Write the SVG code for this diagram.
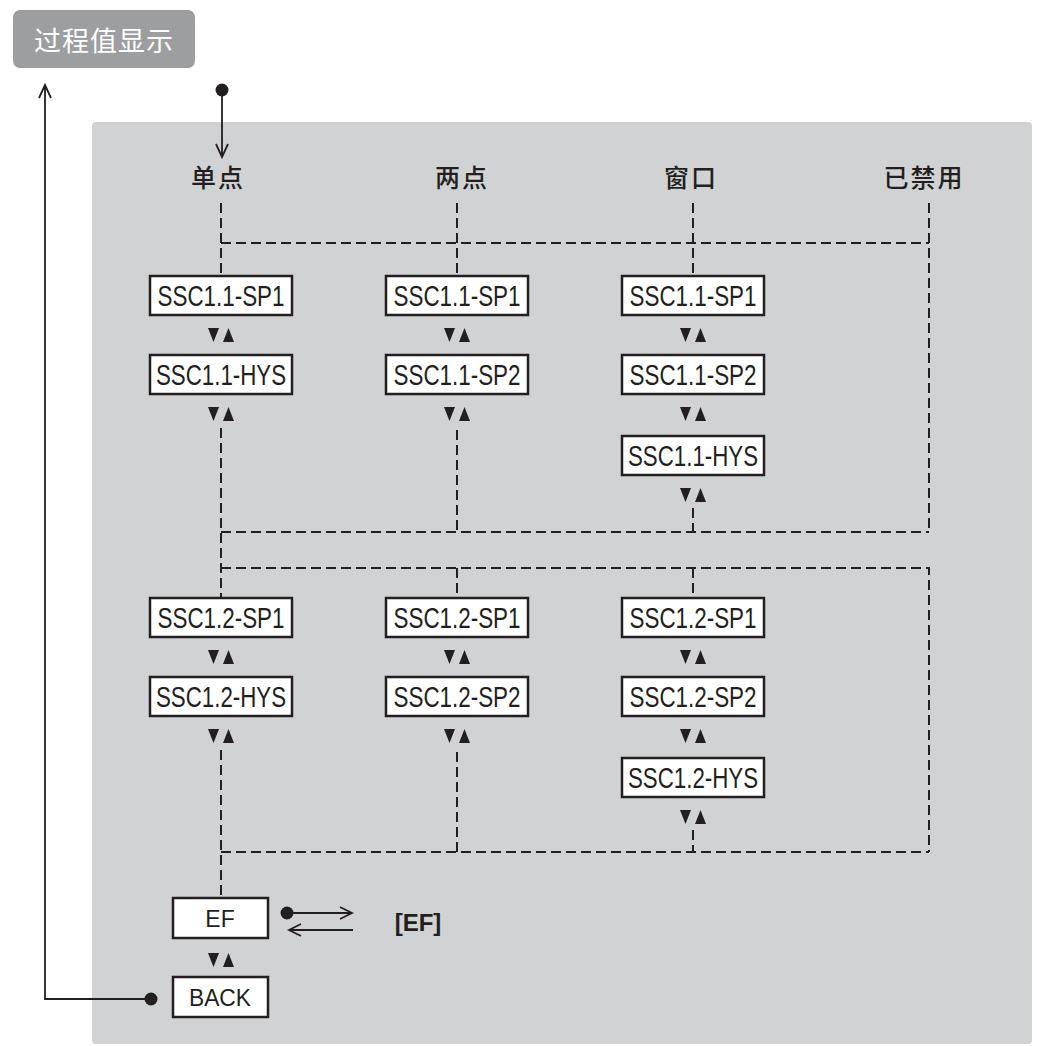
<svg xmlns="http://www.w3.org/2000/svg" width="1037" height="1046" viewBox="0 0 1037 1046">
<defs>
<style>
.panel{fill:#d1d2d4}
.box{fill:#fff;stroke:#231f20;stroke-width:2.5}
.bt{font-family:"Liberation Sans",Arial,sans-serif;font-size:29px;fill:#231f20;text-anchor:middle}
.bt2{font-family:"Liberation Sans",Arial,sans-serif;font-size:23px;fill:#231f20;text-anchor:middle}
.lab{font-family:"Noto Sans CJK SC","Noto Sans",sans-serif;font-size:25px;font-weight:500;fill:#231f20;text-anchor:middle;letter-spacing:2px}
.dash{fill:none;stroke:#231f20;stroke-width:2;stroke-dasharray:10 5}
.solid{fill:none;stroke:#231f20;stroke-width:1.8}
.tri{fill:#231f20}
</style>
<g id="updown">
<polygon class="tri" points="-13,-7 -2,-7 -7.5,7"/>
<polygon class="tri" points="2,7 13,7 7.5,-7"/>
</g>
</defs>

<rect class="panel" x="92" y="122" width="940" height="922" rx="4"/>

<g id="title">
<rect x="13" y="10" width="182" height="58" rx="7" fill="#9d9ea0"/>
<text x="104" y="51" font-family="'Noto Sans CJK SC','Noto Sans',sans-serif" font-size="27px" fill="#fff" text-anchor="middle" letter-spacing="1">过程值显示</text>
</g>

<g id="connectors">
<path class="dash" d="M221 203V276M457 203V276M693 203V276M929 203V532M221 243H929"/>
<path class="dash" d="M221 428V598M457 430V532M693 508V532M221 532H929"/>
<path class="dash" d="M221 568H929V852M457 568V598M693 568V598"/>
<path class="dash" d="M221 750V898M457 752V852M693 830V852M221 852H929"/>
<circle cx="222" cy="90" r="6.5" fill="#231f20"/>
<path class="solid" d="M222 90V156M216 144L222 157L228 144"/>
<circle cx="151" cy="999" r="6.5" fill="#231f20"/>
<path class="solid" d="M151 999H45V85M39 98L45 85L51 98"/>
<circle cx="287" cy="913" r="6.5" fill="#231f20"/>
<path class="solid" d="M292 913H352M340 907L352 913L340 919"/>
<path class="solid" d="M353 930H289M301 924L289 930L301 936"/>
<use href="#updown" x="221" y="335"/>
<use href="#updown" x="221" y="414"/>
<use href="#updown" x="457" y="335"/>
<use href="#updown" x="457" y="414"/>
<use href="#updown" x="693" y="335"/>
<use href="#updown" x="693" y="414"/>
<use href="#updown" x="693" y="495"/>
<use href="#updown" x="221" y="657"/>
<use href="#updown" x="221" y="736"/>
<use href="#updown" x="457" y="657"/>
<use href="#updown" x="457" y="736"/>
<use href="#updown" x="693" y="657"/>
<use href="#updown" x="693" y="736"/>
<use href="#updown" x="693" y="817"/>
<use href="#updown" x="221" y="960"/>
</g>

<g id="labels">
<text class="lab" x="218" y="187">单点</text>
<text class="lab" x="462" y="187">两点</text>
<text class="lab" x="691" y="187">窗口</text>
<text class="lab" x="924" y="187">已禁用</text>
</g>

<g id="n-s11-sp1"><rect class="box" x="150" y="276" width="142" height="39"/><text class="bt" x="221" y="306" textLength="127" lengthAdjust="spacingAndGlyphs">SSC1.1-SP1</text></g>
<g id="n-s11-hys"><rect class="box" x="150" y="355" width="142" height="39"/><text class="bt" x="221" y="385" textLength="130" lengthAdjust="spacingAndGlyphs">SSC1.1-HYS</text></g>
<g id="n-d11-sp1"><rect class="box" x="386" y="276" width="142" height="39"/><text class="bt" x="457" y="306" textLength="127" lengthAdjust="spacingAndGlyphs">SSC1.1-SP1</text></g>
<g id="n-d11-sp2"><rect class="box" x="386" y="355" width="142" height="39"/><text class="bt" x="457" y="385" textLength="127" lengthAdjust="spacingAndGlyphs">SSC1.1-SP2</text></g>
<g id="n-w11-sp1"><rect class="box" x="622" y="276" width="142" height="39"/><text class="bt" x="693" y="306" textLength="127" lengthAdjust="spacingAndGlyphs">SSC1.1-SP1</text></g>
<g id="n-w11-sp2"><rect class="box" x="622" y="355" width="142" height="39"/><text class="bt" x="693" y="385" textLength="127" lengthAdjust="spacingAndGlyphs">SSC1.1-SP2</text></g>
<g id="n-w11-hys"><rect class="box" x="622" y="436" width="142" height="39"/><text class="bt" x="693" y="466" textLength="130" lengthAdjust="spacingAndGlyphs">SSC1.1-HYS</text></g>

<g id="n-s12-sp1"><rect class="box" x="150" y="598" width="142" height="39"/><text class="bt" x="221" y="628" textLength="127" lengthAdjust="spacingAndGlyphs">SSC1.2-SP1</text></g>
<g id="n-s12-hys"><rect class="box" x="150" y="677" width="142" height="39"/><text class="bt" x="221" y="707" textLength="130" lengthAdjust="spacingAndGlyphs">SSC1.2-HYS</text></g>
<g id="n-d12-sp1"><rect class="box" x="386" y="598" width="142" height="39"/><text class="bt" x="457" y="628" textLength="127" lengthAdjust="spacingAndGlyphs">SSC1.2-SP1</text></g>
<g id="n-d12-sp2"><rect class="box" x="386" y="677" width="142" height="39"/><text class="bt" x="457" y="707" textLength="127" lengthAdjust="spacingAndGlyphs">SSC1.2-SP2</text></g>
<g id="n-w12-sp1"><rect class="box" x="622" y="598" width="142" height="39"/><text class="bt" x="693" y="628" textLength="127" lengthAdjust="spacingAndGlyphs">SSC1.2-SP1</text></g>
<g id="n-w12-sp2"><rect class="box" x="622" y="677" width="142" height="39"/><text class="bt" x="693" y="707" textLength="127" lengthAdjust="spacingAndGlyphs">SSC1.2-SP2</text></g>
<g id="n-w12-hys"><rect class="box" x="622" y="758" width="142" height="39"/><text class="bt" x="693" y="788" textLength="130" lengthAdjust="spacingAndGlyphs">SSC1.2-HYS</text></g>

<g id="n-ef"><rect class="box" x="173" y="898" width="95" height="40"/><text class="bt2" x="220" y="927">EF</text></g>
<g id="n-back"><rect class="box" x="173" y="977" width="95" height="40"/><text class="bt2" x="220" y="1006" textLength="62" lengthAdjust="spacingAndGlyphs">BACK</text></g>
<g id="n-ef-label"><text x="418" y="931" font-family="'Liberation Sans',Arial,sans-serif" font-size="24px" font-weight="bold" fill="#231f20" text-anchor="middle">[EF]</text></g>
</svg>
